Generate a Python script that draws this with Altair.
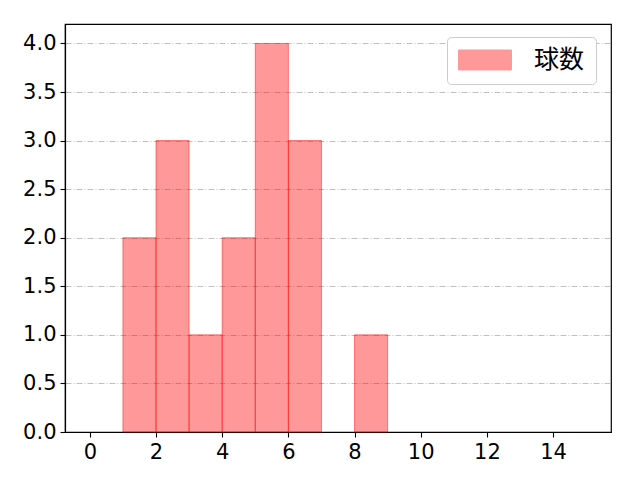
import altair as alt
import pandas as pd

bin_start = [1, 2, 3, 4, 5, 6, 7, 8]
bin_end = [2, 3, 4, 5, 6, 7, 8, 9]
counts = [2, 3, 1, 2, 4, 3, 0, 1]
series_name = "球数"

df = pd.DataFrame({"start": bin_start, "end": bin_end, "count": counts,
                   "series": [series_name] * len(counts)})
df = df[df["count"] > 0]

FONT = "DejaVu Sans"
CJK = "Noto Sans CJK JP"

bars = alt.Chart(df).mark_rect(
    fillOpacity=0.4, stroke="#ff0000", strokeOpacity=0.45, strokeWidth=1
).encode(
    x=alt.X("start:Q", scale=alt.Scale(domain=[-0.75, 15.75], nice=False, zero=False),
            axis=alt.Axis(values=[0, 2, 4, 6, 8, 10, 12, 14], format="d", title=None,
                          grid=False)),
    x2="end:Q",
    y=alt.Y("count:Q", scale=alt.Scale(domain=[0, 4.2], nice=False),
            axis=alt.Axis(values=[0, 0.5, 1, 1.5, 2, 2.5, 3, 3.5, 4], format=".1f",
                          title=None, grid=True, gridColor="#b0b0b0",
                          gridDash=[6, 2, 1, 2], gridWidth=0.8)),
    y2=alt.datum(0),
    fill=alt.Fill("series:N", scale=alt.Scale(range=["#ff0000"]),
                  legend=alt.Legend(title=None, orient="none", legendX=382, legendY=13,
                                    symbolType="M-1,-0.377H1V0.377H-1Z",
                                    symbolSize=2809, symbolOpacity=0.4,
                                    symbolStrokeColor="#ff0000", symbolStrokeWidth=1,
                                    labelFontSize=25, labelFont=CJK, labelColor="#000",
                                    labelOffset=22, padding=11, clipHeight=24,
                                    strokeColor="#cccccc", fillColor="#ffffff",
                                    cornerRadius=4)),
)

chart = bars.properties(
    width=546, height=408,
    autosize=alt.AutoSizeParams(type="none"),
    padding={"left": 57, "top": 16, "right": 10, "bottom": 40},
).configure_view(
    stroke="#000000", strokeWidth=1.2
).configure_axis(
    labelFont=FONT, labelFontSize=21, labelColor="#000000",
    tickColor="#000000", tickSize=5, tickWidth=1.1, labelPadding=4,
    domainColor="#000000", domainWidth=1.2,
)

chart.save("out.html", embed_options={"renderer": "svg", "actions": False})
